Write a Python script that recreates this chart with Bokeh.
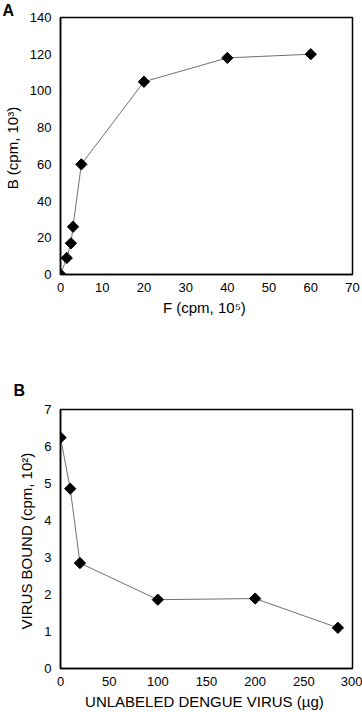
import math
from bokeh.plotting import figure
from bokeh.layouts import column
from bokeh.models import Range1d, FixedTicker
from bokeh.embed import file_html
from bokeh.resources import INLINE

# Panel A data
free_f = [0, 1.5, 2.5, 3, 5, 20, 40, 60]
bound_b = [0, 9, 17, 26, 60, 105, 118, 120]
a_xticks = [0, 10, 20, 30, 40, 50, 60, 70]
a_yticks = [0, 20, 40, 60, 80, 100, 120, 140]

# Panel B data
unlabeled = [0, 10, 20, 100, 200, 285]
virus_bound = [6.24, 4.86, 2.85, 1.86, 1.89, 1.10]
b_xticks = [0, 50, 100, 150, 200, 250, 300]
b_yticks = [0, 1, 2, 3, 4, 5, 6, 7]

FONT = "Liberation Sans"


def style(p, xticks, yticks):
    p.outline_line_color = "black"
    p.outline_line_width = 1.5
    p.grid.visible = False
    p.background_fill_color = "white"
    p.border_fill_color = "white"
    for ax in (p.xaxis[0], p.yaxis[0]):
        ax.major_tick_line_color = None
        ax.minor_tick_line_color = None
        ax.axis_line_color = "black"
        ax.axis_line_width = 1.5
        ax.major_label_text_font = FONT
        ax.major_label_text_font_size = "13px"
        ax.major_label_text_color = "black"
        ax.axis_label_text_font = FONT
        ax.axis_label_text_font_size = "15px"
        ax.axis_label_text_font_style = "normal"
        ax.axis_label_text_color = "black"
    p.xaxis[0].ticker = FixedTicker(ticks=xticks)
    p.yaxis[0].ticker = FixedTicker(ticks=yticks)
    p.xaxis[0].major_label_standoff = 2
    p.yaxis[0].major_label_standoff = 3
    p.xaxis[0].axis_label_standoff = 4
    p.yaxis[0].axis_label_standoff = 6
    p.title.text_font = FONT
    p.title.text_font_style = "bold"
    p.title.text_font_size = "16px"
    p.title.text_color = "black"
    p.title.align = "left"


pa = figure(width=362, height=320, output_backend="svg", toolbar_location=None,
            title="A",
            x_range=Range1d(0, 70), y_range=Range1d(0, 140),
            min_border_left=59, min_border_right=6, min_border_top=16, min_border_bottom=46)
style(pa, a_xticks, a_yticks)
pa.title.offset = -58
pa.title.text_line_height = 0.8
try:
    pa.title.standoff = -2
except Exception:
    pa.title.standoff = 0
pa.xaxis.axis_label = "F (cpm,  10⁵)"
pa.yaxis.axis_label = "B (cpm,  10³)"
pa.line(free_f, bound_b, line_color="#707070", line_width=1)
pa.scatter(free_f, bound_b, marker="square", angle=math.pi / 4, size=8,
           fill_color="black", line_color="black")

pb = figure(width=362, height=392, output_backend="svg", toolbar_location=None,
            title="B",
            x_range=Range1d(0, 300), y_range=Range1d(0, 7),
            min_border_left=49, min_border_right=10, min_border_top=89, min_border_bottom=41)
style(pb, b_xticks, b_yticks)
pb.title.offset = -47
pb.title.standoff = 21
pb.xaxis.axis_label = "UNLABELED  DENGUE VIRUS (µg)"
pb.yaxis.axis_label = "VIRUS BOUND (cpm,  10²)"
pb.line(unlabeled, virus_bound, line_color="#707070", line_width=1)
pb.scatter(unlabeled, virus_bound, marker="square", angle=math.pi / 4, size=8,
           fill_color="black", line_color="black")

layout = column(pa, pb, spacing=0)
open("out.html", "w").write(file_html(layout, INLINE))
